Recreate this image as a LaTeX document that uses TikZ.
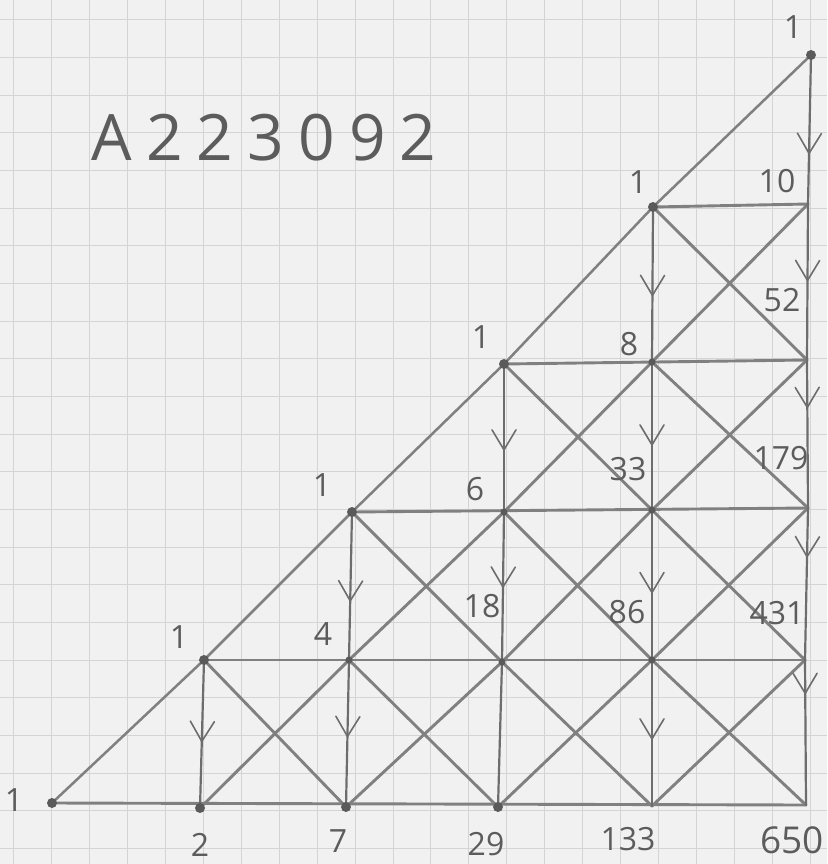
\documentclass[tikz,border=0pt]{standalone}
\usepackage{fontspec}
\setmainfont{Open Sans}
\usetikzlibrary{decorations.markings}
\definecolor{paper}{HTML}{F1F1F1}
\definecolor{gridc}{HTML}{D4D4D4}
\definecolor{pencil}{HTML}{808080}
\definecolor{ink}{HTML}{5C5C5C}
\begin{document}
\begin{tikzpicture}[x=1pt,y=-1pt,
  edge/.style={draw=pencil, line width=2.9pt, line cap=round},
  vedge/.style={draw=pencil!85!black, line width=2.2pt, line cap=round},
  lbl/.style={text=ink, font=\fontsize{32}{32}\selectfont, inner sep=0pt},
  arr/.style={postaction={decorate}, decoration={markings, mark=at position #1 with {\draw[pencil!85!black, line width=1.6pt, line cap=round, line join=round] (-20pt,-12pt) -- (0,0) -- (-20pt,12pt);}}}
]
\useasboundingbox (0,0) rectangle (827,864);
\fill[paper] (0,0) rectangle (827,864);
% graph paper
\foreach \k in {0,...,21} \draw[gridc, line width=1pt] ({13.5+37.95*\k},0) -- ({13.5+37.95*\k},864);
\foreach \k in {0,...,22} \draw[gridc, line width=1pt] (0,{20+37.65*\k}) -- (827,{20+37.65*\k});

% points
\coordinate (n00) at (52,803);
\coordinate (n10) at (200,808);
\coordinate (n20) at (346,807);
\coordinate (n30) at (498,807);
\coordinate (n40) at (652,806);
\coordinate (n50) at (806,805);
\coordinate (n11) at (204,660);
\coordinate (n21) at (349,660);
\coordinate (n31) at (502,662);
\coordinate (n41) at (652,660);
\coordinate (n51) at (805,660);
\coordinate (n22) at (352,512);
\coordinate (n32) at (504,512);
\coordinate (n42) at (652,510);
\coordinate (n52) at (808,508);
\coordinate (n33) at (504,364);
\coordinate (n43) at (652,362);
\coordinate (n53) at (807,360);
\coordinate (n44) at (653,207);
\coordinate (n54) at (808,204);
\coordinate (n55) at (811,55);

% hypotenuse
\draw[edge, line width=2.5pt] (n00) -- (n11) -- (n22) -- (n33) -- (n44) -- (n55);
% rows
\draw[edge] (n00) -- (n50);
\draw[edge] (n11) -- (n51);
\draw[edge] (n22) -- (n52);
\draw[edge] (n33) -- (n53);
\draw[edge] (n44) -- (n54);
% crossing diagonals
\foreach \a/\b in {n10/n21,n11/n20,
  n20/n31,n21/n30,n21/n32,n22/n31,
  n30/n41,n31/n40,n31/n42,n32/n41,n32/n43,n33/n42,
  n40/n51,n41/n50,n41/n52,n42/n51,n42/n53,n43/n52,n43/n54,n44/n53}
  \draw[edge] (\a) -- (\b);
% columns with arrows
\draw[vedge, arr=0.55] (n11) -- (n10);
\draw[vedge, arr=0.60] (n22) -- (n21);
\draw[vedge, arr=0.52] (n21) -- (n20);
\draw[vedge, arr=0.58] (n33) -- (n32);
\draw[vedge, arr=0.50] (n32) -- (n31);
\draw[vedge] (n31) -- (n30);
\draw[vedge, arr=0.57] (n44) -- (n43);
\draw[vedge, arr=0.56] (n43) -- (n42);
\draw[vedge, arr=0.55] (n42) -- (n41);
\draw[vedge, arr=0.54] (n41) -- (n40);
\draw[vedge, arr=0.66] (n55) -- (n54);
\draw[vedge, arr=0.49] (n54) -- (n53);
\draw[vedge, arr=0.32] (n53) -- (n52);
\draw[vedge, arr=0.32] (n52) -- (n51);
\draw[vedge, arr=0.23] (n51) -- (n50);

% dots
\foreach \p in {n00,n11,n22,n33,n44,n55,n10,n20,n30}
  \fill[pencil!70!black] (\p) circle (5);
\foreach \p in {n21,n31,n32,n41,n42,n43}
  \fill[pencil!70!black] (\p) circle (3.5);

% labels
\node[lbl] (l55) at (793,27) {1};
\node[lbl] (l54) at (777,181) {10};
\node[lbl] (l44) at (638,182) {1};
\node[lbl] (l53) at (782,300) {52};
\node[lbl] (l43) at (629,344) {8};
\node[lbl] (l33) at (481,337) {1};
\node[lbl] (l52) at (781,458) {179};
\node[lbl] (l42) at (628,469) {33};
\node[lbl] (l32) at (475,489) {6};
\node[lbl] (l22) at (322,485) {1};
\node[lbl] (l51) at (777,613) {431};
\node[lbl] (l41) at (627,612) {86};
\node[lbl] (l31) at (482,606) {18};
\node[lbl] (l21) at (323,634) {4};
\node[lbl] (l11) at (179,637) {1};
\node[lbl] (l00) at (14,800) {1};
\node[lbl] (l10) at (200,845) {2};
\node[lbl] (l20) at (338,841) {7};
\node[lbl] (l30) at (486,844) {29};
\node[lbl] (l40) at (628,839) {133};
\node[lbl, font=\fontsize{37}{37}\selectfont] (l50) at (792,840) {650};
% title
\node[text=ink, inner sep=0pt, font=\fontsize{64}{64}\selectfont\addfontfeature{LetterSpace=22}] (title) at (264,138) {A223092};
\end{tikzpicture}
\end{document}
